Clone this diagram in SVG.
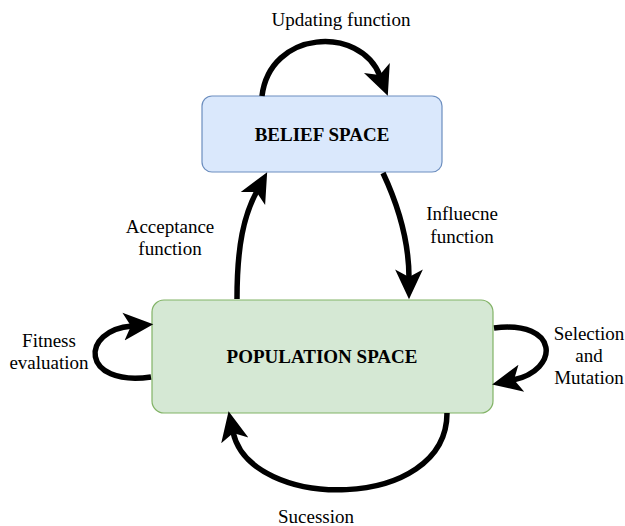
<svg xmlns="http://www.w3.org/2000/svg" width="625" height="526" viewBox="0 0 625 526">
<style>
text{font-size:19px;fill:#000;text-anchor:middle}
.title{font-weight:bold}
.arrow{fill:none;stroke:#000;stroke-width:5.5;marker-end:url(#head)}
</style>
<defs>
<marker id="head" markerUnits="userSpaceOnUse" markerWidth="32" markerHeight="32" viewBox="0 -14 30 28" refX="8" refY="0" orient="auto">
<path d="M0,-13 L28,0 L0,13 L7,0 Z" fill="#000"/>
</marker>
</defs>
<rect width="625" height="526" fill="#fff"/>
<g font-family="Liberation Serif, Times New Roman, serif">
<g id="belief">
<rect x="202" y="96" width="240" height="76" rx="10" fill="#dae8fc" stroke="#6c8ebf" stroke-width="1.2"/>
<text class="title" x="322" y="141">BELIEF SPACE</text>
</g>
<g id="population">
<rect x="152" y="300" width="341" height="113" rx="12" fill="#d5e8d4" stroke="#82b366" stroke-width="1.2"/>
<text class="title" x="322" y="363">POPULATION SPACE</text>
</g>
<g id="connectors">
<path class="arrow" d="M262,96 C270,30 360,25 380,76"/>
<path class="arrow" d="M237,299 C237,245 244,215 257,191"/>
<path class="arrow" d="M383,173 C398,205 409,240 409,278"/>
<path class="arrow" d="M151,377 C80,387 80,330 132,326"/>
<path class="arrow" d="M494,328 C560,320 560,370 513,380"/>
<path class="arrow" d="M447,413 C447,512 250,512 233,432"/>
</g>
<g id="labels">
<text x="341" y="26">Updating function</text>
<text x="170" y="233">Acceptance</text>
<text x="170" y="255">function</text>
<text x="462" y="220">Influecne</text>
<text x="462" y="243">function</text>
<text x="49" y="347">Fitness</text>
<text x="49" y="369">evaluation</text>
<text x="589" y="340">Selection</text>
<text x="589" y="362">and</text>
<text x="589" y="384">Mutation</text>
<text x="316" y="523">Sucession</text>
</g>
</g>
</svg>
